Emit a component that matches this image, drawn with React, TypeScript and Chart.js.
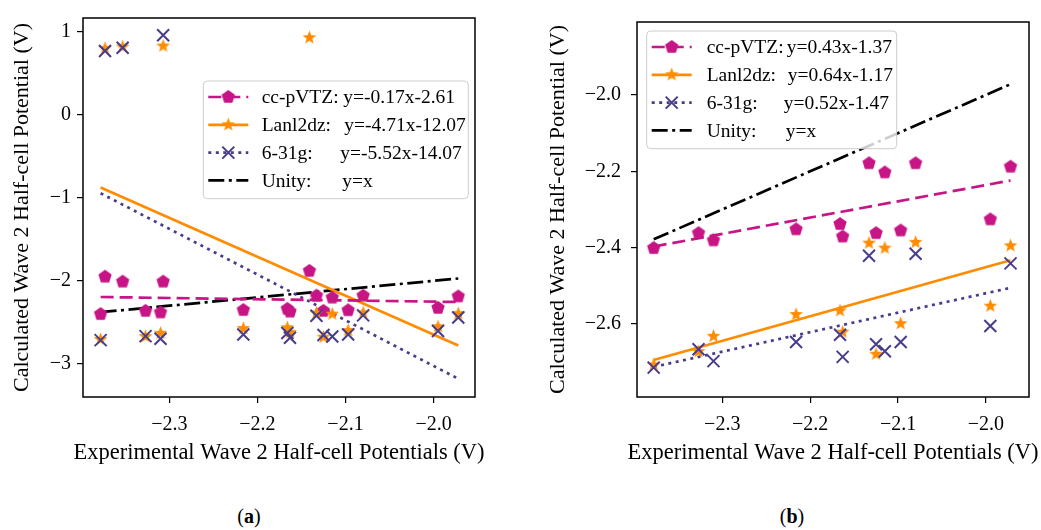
import React, { useEffect, useRef } from 'react';
import { Chart, registerables } from 'chart.js';

Chart.register(...registerables);

const FONT = 'Liberation Serif';
const PINK = '#C71585';
const ORANGE = '#FF8C00';
const BLUE = '#483D8B';
const BLACK = '#000000';

// Experimental Wave 2 half-cell potentials (x) for all compounds
const X_ALL = [-2.378, -2.373, -2.353, -2.327, -2.310, -2.307, -2.216, -2.166, -2.163, -2.141, -2.133, -2.125, -2.115, -2.097, -2.080, -1.995, -1.972];
// Outliers removed in panel (b)
const OUTLIER = [false, true, true, false, false, true, false, false, false, true, false, false, false, false, false, false, false];
// Calculated values
const CC_PVTZ = [-2.401, -1.95, -2.01, -2.362, -2.381, -2.01, -2.352, -2.338, -2.371, -1.88, -2.179, -2.362, -2.203, -2.355, -2.179, -2.326, -2.188];
const LANL2DZ = [-2.707, 0.80, 0.82, -2.672, -2.632, 0.83, -2.575, -2.565, -2.621, 0.93, -2.388, -2.679, -2.401, -2.599, -2.386, -2.553, -2.395];
const G631 = [-2.714, 0.77, 0.81, -2.666, -2.697, 0.96, -2.647, -2.628, -2.686, null, -2.421, -2.653, -2.671, -2.647, -2.416, -2.605, -2.441];

// Fit line end points (x at data extremes)
const FIT_X = [-2.378, -1.972];
const FIT_A_CC = [-2.195, -2.255];
const FIT_A_LANL = [-0.875, -2.78];
const FIT_A_631 = [-0.944, -3.18];
const FIT_B_CC = [-2.397, -2.224];
const FIT_B_LANL = [-2.694, -2.433];
const FIT_B_631 = [-2.712, -2.505];
const UNITY = [-2.378, -1.972];

// Legend text
const LEGEND_LABELS = ['cc-pVTZ:', 'Lanl2dz:', '6-31g:', 'Unity:'];
const EQ_A = ['y=-0.17x-2.61', 'y=-4.71x-12.07', 'y=-5.52x-14.07', 'y=x'];
const EQ_B = ['y=0.43x-1.37', 'y=0.64x-1.17', 'y=0.52x-1.47', 'y=x'];
const EQ_SHIFT = [0, 1, -3, -1];

// Ticks
const X_TICKS = [-2.3, -2.2, -2.1, -2.0];
const X_TICK_LABELS = ['−2.3', '−2.2', '−2.1', '−2.0'];
const Y_TICKS_A = [-3, -2, -1, 0, 1];
const Y_TICK_LABELS_A = ['−3', '−2', '−1', '0', '1'];
const Y_TICKS_B = [-2.6, -2.4, -2.2, -2.0];
const Y_TICK_LABELS_B = ['−2.6', '−2.4', '−2.2', '−2.0'];

const X_TITLE = 'Experimental Wave 2 Half-cell Potentials (V)';
const Y_TITLE = 'Calculated Wave 2 Half-cell Potential (V)';

function makeMarker(kind: string, color: string, R: number): HTMLCanvasElement {
  const size = Math.ceil(R * 2 + 2);
  const c = document.createElement('canvas');
  c.width = size;
  c.height = size;
  const ctx = c.getContext('2d') as CanvasRenderingContext2D;
  const cx = size / 2;
  const cy = size / 2;
  ctx.fillStyle = color;
  ctx.beginPath();
  if (kind === 'pentagon') {
    for (let k = 0; k < 5; k++) {
      const a = -Math.PI / 2 + (k * 2 * Math.PI) / 5;
      const px = cx + R * Math.cos(a);
      const py = cy + R * Math.sin(a);
      if (k === 0) ctx.moveTo(px, py);
      else ctx.lineTo(px, py);
    }
  } else {
    const r = R * 0.42;
    for (let k = 0; k < 10; k++) {
      const a = -Math.PI / 2 + (k * Math.PI) / 5;
      const rr = k % 2 === 0 ? R : r;
      const px = cx + rr * Math.cos(a);
      const py = cy + rr * Math.sin(a);
      if (k === 0) ctx.moveTo(px, py);
      else ctx.lineTo(px, py);
    }
  }
  ctx.closePath();
  ctx.fill();
  return c;
}

const DASH_CC = [13, 6];
const DASH_631 = [3, 4.5];
const DASH_UNITY = [16, 4.5, 3, 4.5];
const LW = 2.7;
const X_HALF = 6;

function framePlugin() {
  return {
    id: 'frame',
    afterDatasetsDraw(chart: any) {
      const { ctx, chartArea } = chart;
      ctx.save();
      ctx.strokeStyle = BLACK;
      ctx.lineWidth = 1.5;
      ctx.setLineDash([]);
      ctx.strokeRect(chartArea.left, chartArea.top, chartArea.right - chartArea.left, chartArea.bottom - chartArea.top);
      ctx.restore();
    },
  };
}

// x-axis title drawn without width compression (it is wider than the plot area)
function xTitlePlugin() {
  return {
    id: 'xTitle',
    afterDraw(chart: any) {
      const { ctx, chartArea } = chart;
      ctx.save();
      ctx.fillStyle = BLACK;
      ctx.font = `22.5px "${FONT}"`;
      ctx.textAlign = 'center';
      ctx.textBaseline = 'middle';
      ctx.fillText(X_TITLE, (chartArea.left + chartArea.right) / 2, 453);
      ctx.restore();
    },
  };
}

function legendPlugin(cfg: any) {
  return {
    id: 'mplLegend',
    afterDatasetsDraw(chart: any) {
      const { ctx, chartArea } = chart;
      const bx = chartArea.left + cfg.dx;
      const by = chartArea.top + cfg.dy;
      ctx.save();
      ctx.beginPath();
      const r = 4;
      const w = cfg.w;
      const h = cfg.h;
      ctx.moveTo(bx + r, by);
      ctx.lineTo(bx + w - r, by);
      ctx.arcTo(bx + w, by, bx + w, by + r, r);
      ctx.lineTo(bx + w, by + h - r);
      ctx.arcTo(bx + w, by + h, bx + w - r, by + h, r);
      ctx.lineTo(bx + r, by + h);
      ctx.arcTo(bx, by + h, bx, by + h - r, r);
      ctx.lineTo(bx, by + r);
      ctx.arcTo(bx, by, bx + r, by, r);
      ctx.closePath();
      ctx.fillStyle = 'rgba(255,255,255,0.8)';
      ctx.fill();
      ctx.strokeStyle = '#cccccc';
      ctx.lineWidth = 1;
      ctx.stroke();

      cfg.entries.forEach((e: any, i: number) => {
        const y = by + 16 + i * 27.8;
        const x1 = bx + 5;
        const x2 = bx + 45;
        const mx = (x1 + x2) / 2;
        ctx.beginPath();
        ctx.setLineDash(e.dash);
        ctx.lineCap = 'butt';
        ctx.strokeStyle = e.color;
        ctx.lineWidth = LW;
        ctx.moveTo(x1, y);
        ctx.lineTo(x2, y);
        ctx.stroke();
        ctx.setLineDash([]);
        if (e.marker === 'x') {
          ctx.beginPath();
          ctx.strokeStyle = e.color;
          ctx.lineWidth = 2;
          ctx.moveTo(mx - X_HALF, y - X_HALF);
          ctx.lineTo(mx + X_HALF, y + X_HALF);
          ctx.moveTo(mx - X_HALF, y + X_HALF);
          ctx.lineTo(mx + X_HALF, y - X_HALF);
          ctx.stroke();
        } else if (e.marker) {
          const img = e.marker as HTMLCanvasElement;
          ctx.drawImage(img, mx - img.width / 2, y - img.height / 2);
        }
        ctx.fillStyle = BLACK;
        ctx.font = `19.5px "${FONT}"`;
        ctx.textBaseline = 'middle';
        ctx.textAlign = 'left';
        ctx.fillText(e.label, bx + cfg.labelX, y + 1);
        ctx.fillText(e.eq, bx + cfg.eqX + EQ_SHIFT[i], y + 1);
      });
      ctx.restore();
    },
  };
}

function pts(xs: number[], ys: (number | null)[], keep: (i: number) => boolean) {
  const out: { x: number; y: number }[] = [];
  for (let i = 0; i < xs.length; i++) {
    const y = ys[i];
    if (y === null || !keep(i)) continue;
    out.push({ x: xs[i], y });
  }
  return out;
}

function lineData(ys: number[]) {
  return [
    { x: FIT_X[0], y: ys[0] },
    { x: FIT_X[1], y: ys[1] },
  ];
}

function buildConfig(panel: 'a' | 'b') {
  const isA = panel === 'a';
  const keep = (i: number) => (isA ? true : !OUTLIER[i]);
  const pent = makeMarker('pentagon', PINK, 7);
  const star = makeMarker('star', ORANGE, 7.2);
  const fitCC = isA ? FIT_A_CC : FIT_B_CC;
  const fitL = isA ? FIT_A_LANL : FIT_B_LANL;
  const fit6 = isA ? FIT_A_631 : FIT_B_631;
  const eqs = isA ? EQ_A : EQ_B;
  const yTicks = isA ? Y_TICKS_A : Y_TICKS_B;
  const yLabels = isA ? Y_TICK_LABELS_A : Y_TICK_LABELS_B;

  const lineDs = (data: any, color: string, dash: number[]) => ({
    data,
    showLine: true,
    borderColor: color,
    backgroundColor: color,
    borderWidth: LW,
    borderDash: dash,
    borderCapStyle: 'butt',
    pointRadius: 0,
    pointHoverRadius: 0,
    fill: false,
    order: 10,
  });

  const legendCfg = {
    dx: isA ? 120.3 : 9.7,
    dy: isA ? 63 : 9,
    w: isA ? 265 : 250,
    h: 117.7,
    labelX: isA ? 58.4 : 60,
    eqX: 140,
    entries: [
      { label: LEGEND_LABELS[0], eq: eqs[0], color: PINK, dash: DASH_CC, marker: pent },
      { label: LEGEND_LABELS[1], eq: eqs[1], color: ORANGE, dash: [], marker: star },
      { label: LEGEND_LABELS[2], eq: eqs[2], color: BLUE, dash: DASH_631, marker: 'x' },
      { label: LEGEND_LABELS[3], eq: eqs[3], color: BLACK, dash: DASH_UNITY, marker: null },
    ],
  };

  const tickFont = { family: FONT, size: 20 };
  const titleFont = { family: FONT, size: 22 };

  return {
    type: 'scatter',
    data: {
      datasets: [
        {
          data: pts(X_ALL, G631, keep),
          pointStyle: 'crossRot',
          pointRadius: X_HALF / Math.SQRT1_2,
          pointBorderWidth: 2,
          borderColor: BLUE,
          backgroundColor: BLUE,
          pointHoverRadius: 0,
          order: 1,
        },
        {
          data: pts(X_ALL, LANL2DZ, keep),
          pointStyle: star,
          pointRadius: 6,
          borderColor: ORANGE,
          backgroundColor: ORANGE,
          order: 2,
        },
        {
          data: pts(X_ALL, CC_PVTZ, keep),
          pointStyle: pent,
          pointRadius: 6,
          borderColor: PINK,
          backgroundColor: PINK,
          order: 3,
        },
        lineDs(lineData(fitCC), PINK, DASH_CC),
        lineDs(lineData(fitL), ORANGE, []),
        lineDs(lineData(fit6), BLUE, DASH_631),
        lineDs(
          [
            { x: FIT_X[0], y: UNITY[0] },
            { x: FIT_X[1], y: UNITY[1] },
          ],
          BLACK,
          DASH_UNITY
        ),
      ],
    },
    options: {
      responsive: false,
      animation: false,
      events: [],
      layout: { padding: { left: 0, right: isA ? 45 : 12, top: 16, bottom: 0 } },
      plugins: {
        legend: { display: false },
        tooltip: { enabled: false },
      },
      scales: {
        x: {
          type: 'linear',
          position: 'bottom',
          min: isA ? -2.398 : -2.397,
          max: isA ? -1.953 : -1.951,
          afterFit: (s: any) => {
            s.height = 73;
          },
          afterBuildTicks: (s: any) => {
            s.ticks = X_TICKS.map((v) => ({ value: v }));
          },
          ticks: {
            callback: (_v: any, i: number) => X_TICK_LABELS[i],
            font: tickFont,
            color: BLACK,
            padding: 10,
            maxRotation: 0,
            autoSkip: false,
          },
          grid: { drawOnChartArea: false, drawTicks: true, tickLength: 6, color: BLACK, lineWidth: 1.2 },
          border: { display: false },
          title: { display: false },
        },
        y: {
          type: 'linear',
          position: 'left',
          min: isA ? -3.4 : -2.791,
          max: isA ? 1.168 : -1.809,
          afterFit: (s: any) => {
            s.width = isA ? 83 : 117;
          },
          afterBuildTicks: (s: any) => {
            s.ticks = yTicks.map((v) => ({ value: v }));
          },
          ticks: {
            callback: (_v: any, i: number) => yLabels[i],
            font: tickFont,
            color: BLACK,
            padding: isA ? 6 : 10,
            autoSkip: false,
          },
          grid: { drawOnChartArea: false, drawTicks: true, tickLength: 6, color: BLACK, lineWidth: 1.2 },
          border: { display: false },
          title: { display: true, text: Y_TITLE, font: titleFont, color: BLACK, padding: { top: isA ? 9 : 25, bottom: 0 } },
        },
      },
    },
    plugins: [framePlugin(), legendPlugin(legendCfg), xTitlePlugin()],
  };
}

function Panel({ panel, left, width }: { panel: 'a' | 'b'; left: number; width: number }) {
  const ref = useRef<HTMLCanvasElement | null>(null);
  useEffect(() => {
    if (!ref.current) return;
    const chart = new Chart(ref.current, buildConfig(panel) as any);
    return () => chart.destroy();
  }, [panel]);
  return (
    <canvas
      ref={ref}
      width={width}
      height={470}
      style={{ position: 'absolute', left, top: 0, width, height: 470 }}
    />
  );
}

export default function App() {
  const labelStyle: React.CSSProperties = {
    position: 'absolute',
    top: 503,
    width: 60,
    textAlign: 'center',
    fontFamily: FONT,
    fontSize: 20,
    lineHeight: '26px',
    color: BLACK,
  };
  return (
    <div style={{ position: 'absolute', left: 0, top: 0, width: 1041, height: 530, background: '#ffffff', overflow: 'hidden' }}>
      <Panel panel="a" left={0} width={520} />
      <Panel panel="b" left={520} width={521} />
      <div style={{ ...labelStyle, left: 249 - 30 }}>
        (<b>a</b>)
      </div>
      <div style={{ ...labelStyle, left: 792 - 30 }}>
        (<b>b</b>)
      </div>
    </div>
  );
}
